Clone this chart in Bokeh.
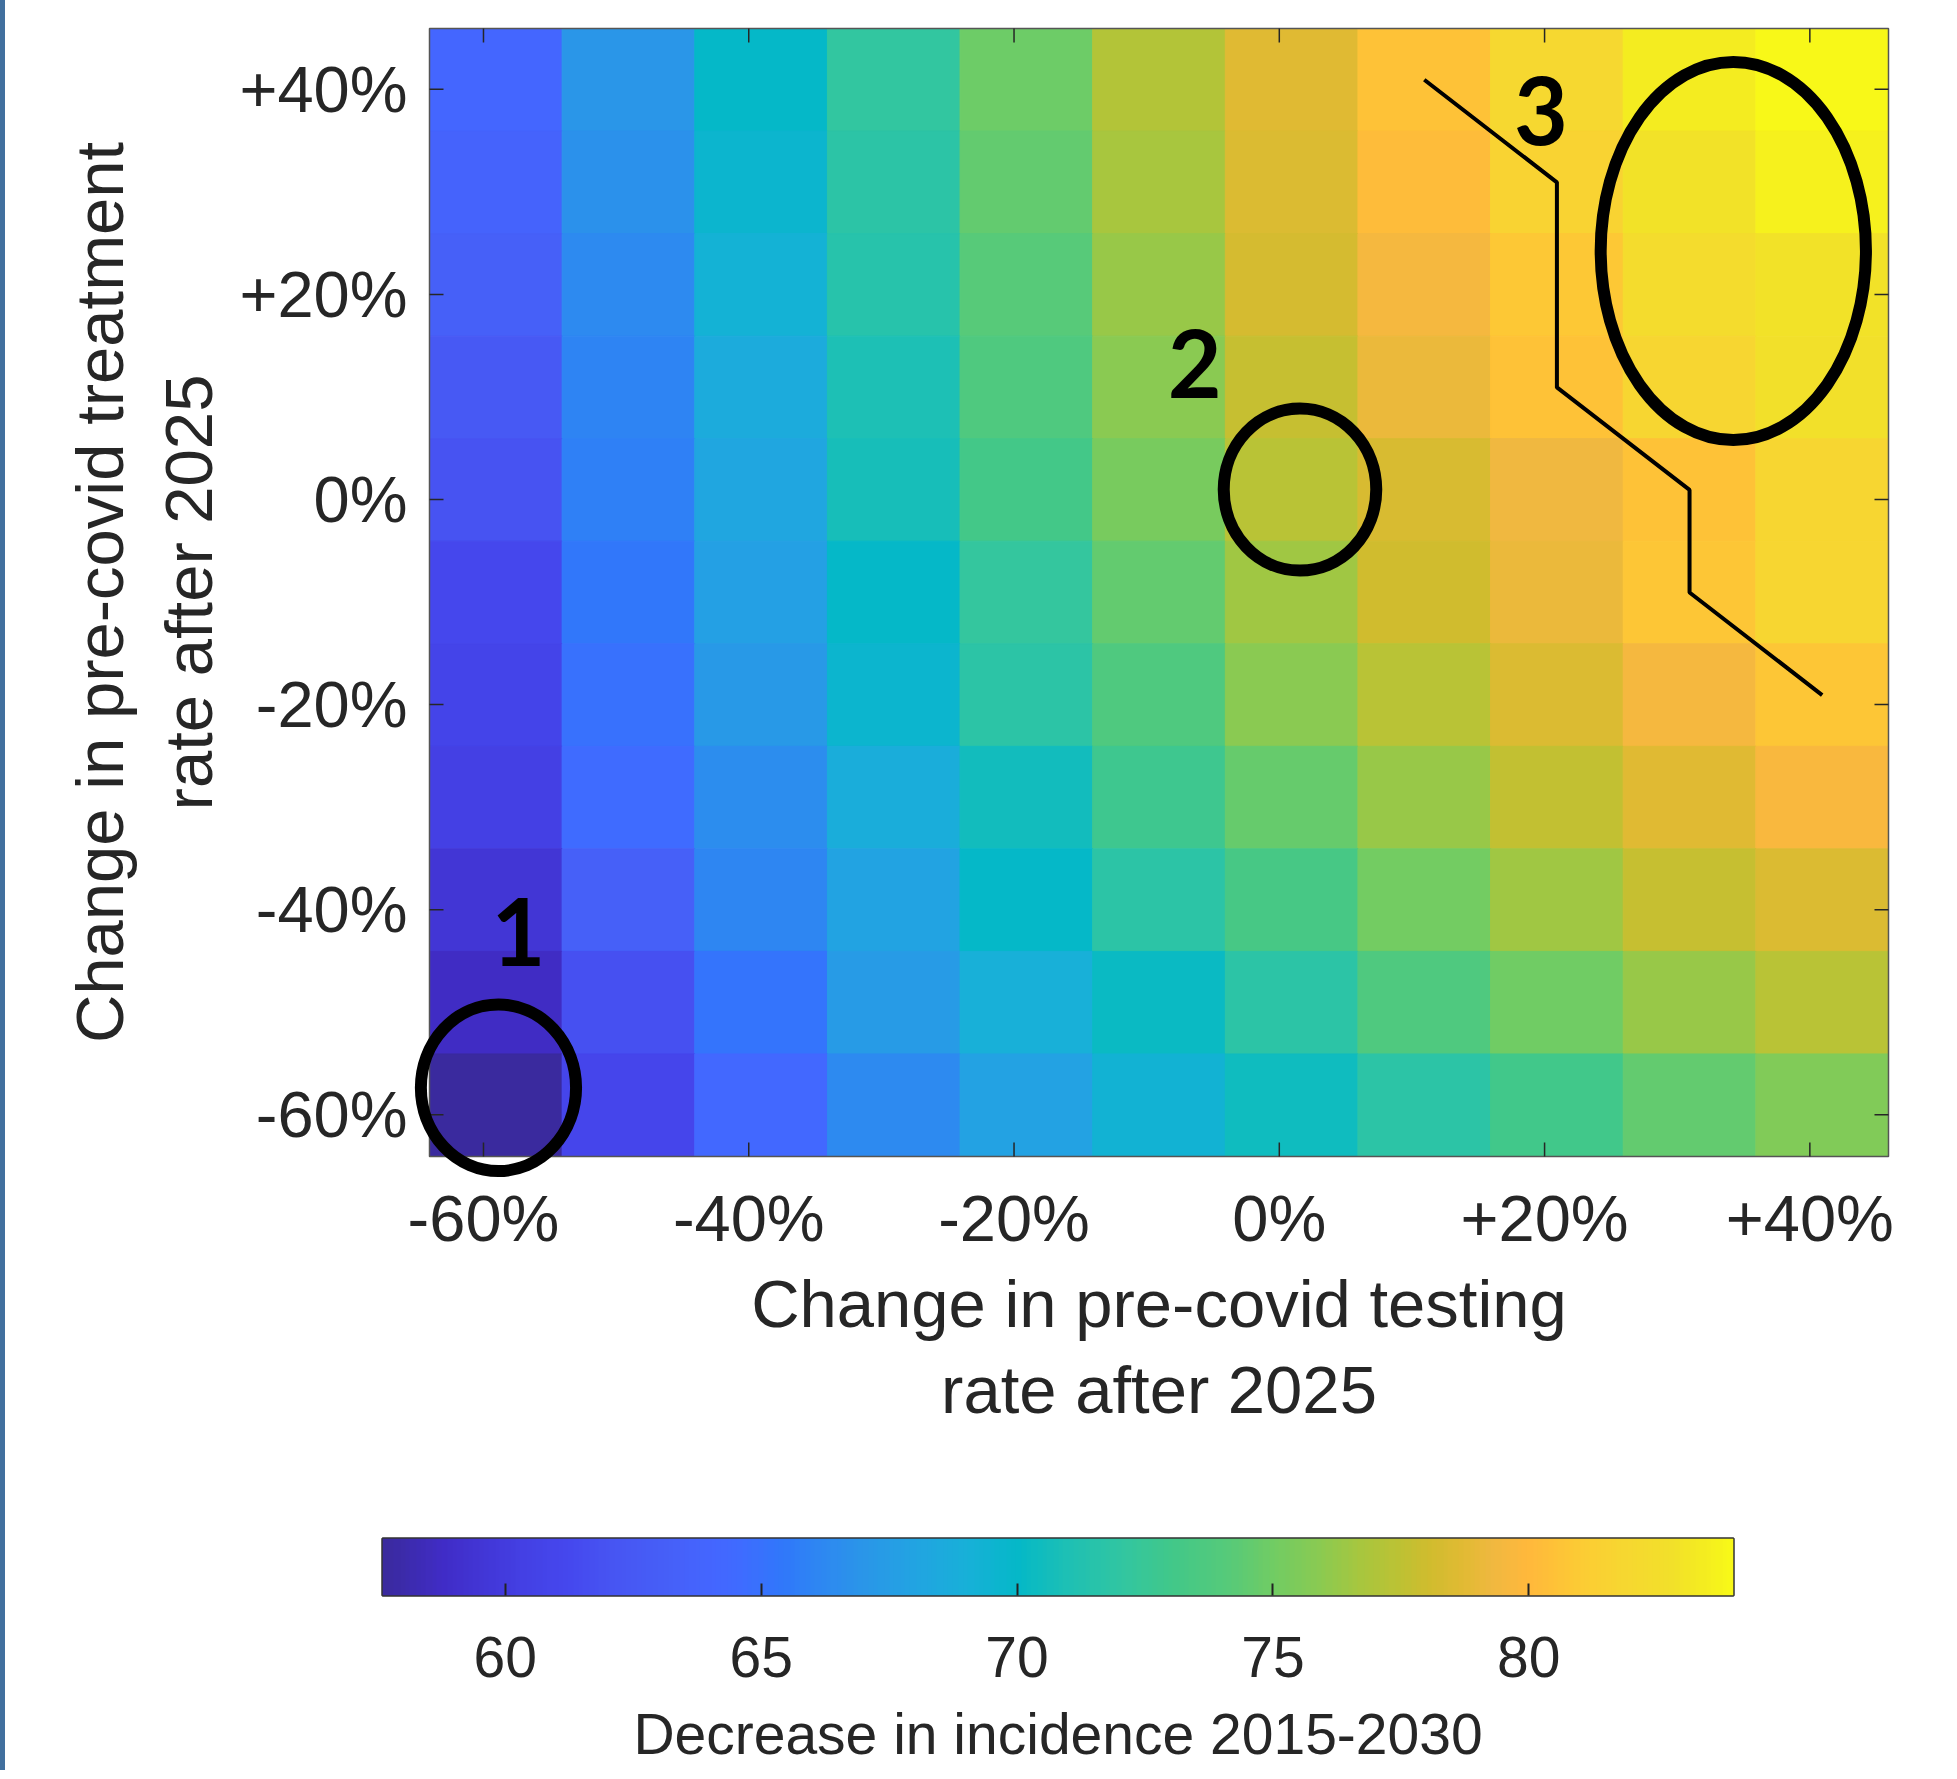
import numpy as np
from bokeh.plotting import figure
from bokeh.models import (LinearColorMapper, FixedTicker, Label, ColumnDataSource, Div)
from bokeh.layouts import column, row
from bokeh.embed import file_html
from bokeh.resources import INLINE

# ---------------- data ----------------
testing_change = [-60, -50, -40, -30, -20, -10, 0, 10, 20, 30, 40]      # x categories (%)
treatment_change = [40, 30, 20, 10, 0, -10, -20, -30, -40, -50, -60]    # y categories (%), top -> bottom

# Decrease in incidence 2015-2030, one list per treatment-change row (left -> right in testing change)
dec_treat_p40 = [64.0, 67.0, 70.0, 72.1, 74.85, 77.1, 78.7, 80.5, 82.0, 83.4, 84.0]
dec_treat_p30 = [63.6, 66.7, 69.6, 71.8, 74.55, 76.7, 78.5, 80.2, 81.6, 82.95, 83.6]
dec_treat_p20 = [63.2, 66.3, 69.2, 71.5, 74.2, 76.3, 78.25, 79.55, 80.9, 82.4, 82.95]
dec_treat_p10 = [62.5, 66.0, 68.6, 71.0, 73.7, 75.95, 77.75, 79.15, 80.5, 81.8, 82.85]
dec_treat_0   = [62.0, 65.8, 68.2, 70.7, 73.1, 75.3, 77.3, 78.4, 79.35, 80.5, 81.8]
dec_treat_m10 = [61.2, 65.4, 67.8, 70.0, 72.2, 74.6, 76.5, 78.1, 79.15, 80.7, 81.8]
dec_treat_m20 = [60.7, 65.0, 67.2, 69.6, 71.8, 73.7, 75.9, 77.3, 78.5, 79.55, 80.7]
dec_treat_m30 = [60.3, 64.6, 66.5, 68.8, 70.5, 72.8, 74.7, 76.3, 77.7, 78.7, 79.7]
dec_treat_m40 = [59.5, 63.2, 66.1, 68.0, 70.0, 71.8, 73.3, 75.05, 76.5, 77.75, 78.5]
dec_treat_m50 = [58.7, 61.8, 65.2, 67.3, 69.0, 70.2, 71.8, 73.7, 75.0, 76.3, 77.3]
dec_treat_m60 = [57.6, 61.0, 64.3, 66.3, 67.9, 69.3, 70.4, 71.8, 73.0, 74.55, 75.55]
rows = [dec_treat_p40, dec_treat_p30, dec_treat_p20, dec_treat_p10, dec_treat_0,
        dec_treat_m10, dec_treat_m20, dec_treat_m30, dec_treat_m40, dec_treat_m50, dec_treat_m60]

x_tick_values = [-60, -40, -20, 0, 20, 40]
x_tick_labels = ["-60%", "-40%", "-20%", "0%", "+20%", "+40%"]
y_tick_values = [-60, -40, -20, 0, 20, 40]
y_tick_labels = ["-60%", "-40%", "-20%", "0%", "+20%", "+40%"]
cb_tick_values = [60, 65, 70, 75, 80]

x_title = "Change in pre-covid testing\nrate after 2025"
y_title = "Change in pre-covid treatment\nrate after 2025"
cb_title = "Decrease in incidence 2015-2030"

# colormap stops (value -> colour)
cmap_values = [57.6, 58.7, 59.5, 60.3, 61.2, 62.0, 63.2, 64.0, 64.6, 65.4, 66.3, 67.0, 68.0,
               69.0, 70.0, 71.0, 72.1, 73.1, 74.2, 75.0, 76.0, 76.76, 77.5, 78.1, 78.8,
               79.35, 80.0, 80.5, 81.1, 82.0, 82.85, 83.5, 84.0]
cmap_colors = ["#3a2a9e", "#402cc6", "#4236d6", "#4440e4", "#4548ee", "#4754f2", "#4660f8",
               "#4466ff", "#3e6cff", "#3078fa", "#2d8af0", "#2a96e8", "#22a4e2", "#18b0d8",
               "#04b8c8", "#1ec0b4", "#32c6a0", "#42c888", "#58ca78", "#70cc64", "#8cca50",
               "#a8c63e", "#bcc234", "#d0bc2e", "#e2ba34", "#f0b840", "#ffb83c", "#fec038",
               "#fccc34", "#f6d830", "#f2e02a", "#f4ec20", "#f8f818"]

# annotation geometry (data units)
ring_x = [-59.8, 0.63, 33.3]
ring_y = [-58.3, 0.04, 23.3]
ring_w = [11.7, 11.5, 20.0]
ring_h = [16.25, 15.8, 36.9]
num_text = ["1", "2", "3"]
num_x = [-58.3, -7.3, 18.8]
num_y = [-43.1, 12.3, 37.0]
path_x = [10, 20, 20, 30, 30, 40]
path_y = [40, 30, 10, 0, -10, -20]

# ---------------- styles ----------------
FONT = "Liberation Sans"
TXT = "#262626"
CELL = 10
TICK_SHIFT = -0.93
FW, FH = 1459, 1128          # heat-map box in px
EXT_X, EXT_Y = 22, 25        # white margin inside the frame so ring 1 can overhang the box
TICK_PX = 14
STRIP = 5


def hex2rgb(h):
    return tuple(int(h[i:i + 2], 16) for i in (1, 3, 5))


def build_palette(vals, cols, low, high, n=256):
    rgb = [hex2rgb(c) for c in cols]
    out = []
    for i in range(n):
        v = low + (high - low) * i / (n - 1)
        if v <= vals[0]:
            c = rgb[0]
        elif v >= vals[-1]:
            c = rgb[-1]
        else:
            k = 0
            while vals[k + 1] < v:
                k += 1
            t = (v - vals[k]) / (vals[k + 1] - vals[k])
            c = tuple(round(rgb[k][j] + t * (rgb[k + 1][j] - rgb[k][j])) for j in range(3))
        out.append("#%02x%02x%02x" % c)
    return out


xs, ys, vs = [], [], []
for yv, r in zip(treatment_change, rows):
    for xv, v in zip(testing_change, r):
        xs.append(xv)
        ys.append(yv)
        vs.append(v)
low, high = min(vs), max(vs)
palette = build_palette(cmap_values, cmap_colors, low, high)
mapper = LinearColorMapper(palette=palette, low=low, high=high)
src = ColumnDataSource(dict(x=xs, y=ys, v=vs))

x_lo = min(testing_change) - CELL / 2
x_hi = max(testing_change) + CELL / 2
y_lo = min(treatment_change) - CELL / 2
y_hi = max(treatment_change) + CELL / 2
px_x = FW / (x_hi - x_lo)
px_y = FH / (y_hi - y_lo)

p = figure(frame_width=FW + 2 * EXT_X, frame_height=FH + 2 * EXT_Y,
           x_range=(x_lo - EXT_X / px_x, x_hi + EXT_X / px_x),
           y_range=(y_lo - EXT_Y / px_y, y_hi + EXT_Y / px_y),
           output_backend="svg", toolbar_location=None,
           min_border_left=429 - EXT_X - STRIP, min_border_top=28 - EXT_Y,
           min_border_right=45 - EXT_X, min_border_bottom=304 - EXT_Y)
p.background_fill_color = "white"
p.border_fill_color = "white"
p.outline_line_color = None
p.xgrid.visible = False
p.ygrid.visible = False

p.rect(x="x", y="y", width=CELL, height=CELL, source=src,
       fill_color={"field": "v", "transform": mapper},
       line_color={"field": "v", "transform": mapper}, line_width=1)
# box round the heat map
p.quad(left=[x_lo], right=[x_hi], bottom=[y_lo], top=[y_hi], fill_color=None,
       line_color="#555555", line_width=1.5)

xt = [round(v + TICK_SHIFT, 2) for v in x_tick_values]
yt = [round(v + TICK_SHIFT, 2) for v in y_tick_values]

for ax, ticks, labels in [(p.xaxis[0], xt, x_tick_labels), (p.yaxis[0], yt, y_tick_labels)]:
    ax.ticker = FixedTicker(ticks=ticks)
    ax.major_label_overrides = {t: l for t, l in zip(ticks, labels)}
    ax.minor_tick_line_color = None
    ax.major_tick_line_color = None
    ax.major_tick_in = 0
    ax.major_tick_out = 0
    ax.axis_line_color = None
    ax.major_label_text_font = FONT
    ax.major_label_text_color = TXT
    ax.major_label_text_font_size = "65px"
    ax.axis_label_text_font = FONT
    ax.axis_label_text_font_size = "67px"
    ax.axis_label_text_font_style = "normal"
    ax.axis_label_text_color = TXT
p.xaxis[0].major_label_standoff = 25 - EXT_Y
p.yaxis[0].major_label_standoff = 22 - EXT_X
p.xaxis[0].axis_label = x_title
p.yaxis[0].axis_label = y_title
p.xaxis[0].axis_label_text_line_height = 1.15
p.yaxis[0].axis_label_text_line_height = 1.19
p.xaxis[0].axis_label_standoff = 8
p.yaxis[0].axis_label_standoff = 10

# inward ticks on all four sides of the box
n = len(xt)
tx, ty = TICK_PX / px_x, TICK_PX / px_y
p.segment(x0=xt, y0=[y_hi] * n, x1=xt, y1=[y_hi - ty] * n, line_color=TXT, line_width=1.5)
p.segment(x0=xt, y0=[y_lo] * n, x1=xt, y1=[y_lo + ty] * n, line_color=TXT, line_width=1.5)
m = len(yt)
p.segment(x0=[x_hi] * m, y0=yt, x1=[x_hi - tx] * m, y1=yt, line_color=TXT, line_width=1.5)
p.segment(x0=[x_lo] * m, y0=yt, x1=[x_lo + tx] * m, y1=yt, line_color=TXT, line_width=1.5)

# annotations
p.ellipse(x=ring_x, y=ring_y, width=ring_w, height=ring_h, fill_color=None,
          line_color="black", line_width=12)
p.line(x=path_x, y=path_y, line_color="black", line_width=4)
for t, nx, ny in zip(num_text, num_x, num_y):
    p.add_layout(Label(x=nx, y=ny, text=t, text_font="Lato", text_font_style="bold",
                       text_font_size="93px", text_align="center", text_baseline="middle",
                       text_color="black"))

# ---------------- colour bar ----------------
cb = figure(frame_width=1351, frame_height=57, x_range=(low, high), y_range=(0, 1),
            output_backend="svg", toolbar_location=None,
            min_border_left=382 - STRIP, min_border_right=202, min_border_top=78,
            min_border_bottom=168)
cb.background_fill_color = "white"
cb.border_fill_color = "white"
cb.outline_line_color = "#333333"
cb.outline_line_width = 2.5
cb.xgrid.visible = False
cb.ygrid.visible = False
cb.yaxis.visible = False
grad = np.linspace(low, high, 600).reshape(1, -1)
cb.image(image=[grad], x=low, y=0, dw=high - low, dh=1, color_mapper=mapper)
ax = cb.xaxis[0]
ax.ticker = FixedTicker(ticks=cb_tick_values)
ax.minor_tick_line_color = None
ax.major_tick_in = 12
ax.major_tick_out = 0
ax.major_tick_line_color = "#222222"
ax.major_tick_line_width = 2
ax.axis_line_color = None
ax.major_label_text_font = FONT
ax.major_label_text_font_size = "57px"
ax.major_label_text_color = TXT
ax.major_label_standoff = 41
ax.axis_label = cb_title
ax.axis_label_text_font = FONT
ax.axis_label_text_font_size = "57px"
ax.axis_label_text_font_style = "normal"
ax.axis_label_text_color = TXT
ax.axis_label_standoff = 22

strip = Div(text="", width=STRIP, height=1770,
            styles={"background-color": "#41709e", "margin": "0", "padding": "0"})
layout = row(strip, column(p, row(cb), spacing=0), spacing=0)
open("out.html", "w").write(file_html(layout, INLINE))
